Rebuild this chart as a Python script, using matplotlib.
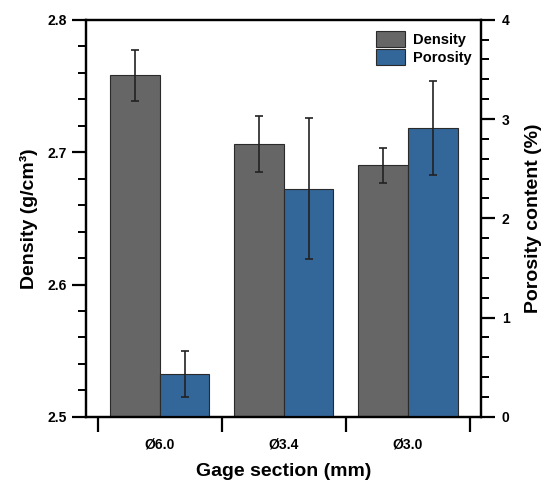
import numpy as np
import matplotlib
matplotlib.use('Agg')
import matplotlib.pyplot as plt
from matplotlib.ticker import MultipleLocator, FixedLocator

plt.rcParams['font.family'] = ['Liberation Sans', 'DejaVu Sans']
plt.rcParams['font.weight'] = 'bold'

sections = ['Ø6.0', 'Ø3.4', 'Ø3.0']
density = [2.758, 2.706, 2.690]
density_err = [0.019, 0.021, 0.013]
porosity = [0.43, 2.30, 2.91]
porosity_err = [0.23, 0.71, 0.47]

gray = '#666666'
blue = '#336699'

fig = plt.figure(figsize=(5.43, 4.82), dpi=100)
ax = fig.add_axes([0.158, 0.135, 0.728, 0.824])
ax2 = ax.twinx()

x = np.arange(1, len(sections) + 1)
w = 0.4

b1 = ax.bar(x - w / 2, density, w, color=gray, edgecolor='#2a2a2a', linewidth=0.8,
            yerr=density_err, capsize=3,
            error_kw=dict(ecolor='#222222', elinewidth=1.2, capthick=1.2),
            label='Density', zorder=2)
b2 = ax2.bar(x + w / 2, porosity, w, color=blue, edgecolor='#2a2a2a', linewidth=0.8,
             yerr=porosity_err, capsize=3,
             error_kw=dict(ecolor='#222222', elinewidth=1.2, capthick=1.2),
             label='Porosity', zorder=2)

ax.set_xlim(0.403, 3.59)
ax.set_ylim(2.5, 2.8)
ax2.set_ylim(0, 4)

ax.set_yticks([2.5, 2.6, 2.7, 2.8])
ax.yaxis.set_minor_locator(MultipleLocator(0.02))
ax2.set_yticks([0, 1, 2, 3, 4])
ax2.yaxis.set_minor_locator(MultipleLocator(0.2))

ax.set_xticks(x)
ax.set_xticklabels(sections)
ax.xaxis.set_minor_locator(FixedLocator([0.5, 1.5, 2.5, 3.5]))

for a in (ax, ax2):
    for s in a.spines.values():
        s.set_linewidth(1.6)
    a.tick_params(axis='y', which='major', length=10, width=1.6, labelsize=10, direction='out')
    a.tick_params(axis='y', which='minor', length=5.5, width=1.4, direction='out')
ax.tick_params(axis='x', which='major', length=0, labelsize=10, pad=15)
ax.tick_params(axis='x', which='minor', length=11, width=1.6, direction='out')
ax2.tick_params(axis='y', pad=5)

for lab in ax.get_xticklabels() + ax.get_yticklabels() + ax2.get_yticklabels():
    lab.set_fontweight('bold')

ax.set_xlabel('Gage section (mm)', fontsize=14, fontweight='bold', labelpad=8)
ax.set_ylabel('Density (g/cm³)', fontsize=14, fontweight='bold', labelpad=7)
ax2.set_ylabel('Porosity content (%)', fontsize=14, fontweight='bold', labelpad=11)

leg = ax2.legend([b1, b2], ['Density', 'Porosity'], loc='upper right',
                 bbox_to_anchor=(0.975, 0.972), frameon=False, borderpad=0,
                 borderaxespad=0, handlelength=2.0, handleheight=1.3,
                 handletextpad=0.5, labelspacing=0.15,
                 prop={'size': 10.5, 'weight': 'bold'})

fig.savefig('out.png', dpi=100)
